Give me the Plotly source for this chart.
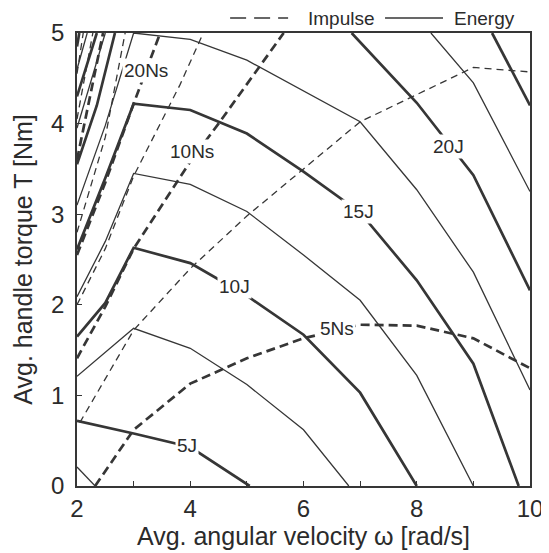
import plotly.graph_objects as go

# ---------------- data ----------------
# Energy contours [J] (solid). thick = multiples of 5 J, thin = odd 2.5 J steps
e2_5_x = [2, 2.32]
e2_5_y = [0.21, 0.0]
e5_x = [2, 3, 4, 5.05]
e5_y = [0.72, 0.58, 0.43, 0.0]
e7_5_x = [2, 3, 4, 5, 6, 6.8]
e7_5_y = [1.21, 1.74, 1.52, 1.12, 0.62, 0.0]
e10_x = [2, 2.5, 3, 4, 5, 6, 7, 8]
e10_y = [1.65, 2.02, 2.63, 2.46, 2.10, 1.67, 1.03, 0.0]
e12_5_x = [2, 2.5, 3, 4, 5, 6, 7, 8, 9]
e12_5_y = [2.09, 2.70, 3.45, 3.33, 3.03, 2.55, 2.05, 1.22, 0.0]
e15_x = [2, 2.5, 3, 4, 5, 6, 7, 8, 9, 9.8]
e15_y = [2.61, 3.40, 4.22, 4.15, 3.89, 3.47, 3.02, 2.27, 1.35, 0.0]
e17_5_x = [2, 2.5, 3, 4, 5, 6, 7, 8, 9, 10]
e17_5_y = [3.10, 3.98, 5.0, 4.93, 4.70, 4.36, 4.02, 3.27, 2.36, 1.06]
e20_left_x = [2, 2.35, 2.67]
e20_left_y = [3.55, 4.20, 5.0]
e20_right_x = [6.85, 7, 8, 9, 10]
e20_right_y = [5.0, 4.90, 4.23, 3.43, 2.16]
e22_5_left_x = [2, 2.5]
e22_5_left_y = [3.95, 5.0]
e22_5_right_x = [8.25, 9, 10]
e22_5_right_y = [5.0, 4.45, 3.25]
e25_left_x = [2, 2.35]
e25_left_y = [4.30, 5.0]
e25_right_x = [9.33, 10]
e25_right_y = [5.0, 4.20]
e27_5_left_x = [2, 2.18]
e27_5_left_y = [4.60, 5.0]
e30_left_x = [2, 2.04]
e30_left_y = [4.85, 5.0]

# Impulse contours [Ns] (dashed)
i5_x = [2.32, 3, 4, 5, 6, 7, 8, 9, 10]
i5_y = [0.0, 0.62, 1.13, 1.41, 1.63, 1.78, 1.77, 1.63, 1.30]
i7_5_x = [2.05, 3, 4, 5, 6, 7, 8, 9, 10]
i7_5_y = [0.70, 1.72, 2.40, 2.98, 3.50, 4.02, 4.32, 4.62, 4.57]
i10_x = [2, 2.5, 3, 4, 4.5, 5, 5.65]
i10_y = [1.41, 1.98, 2.62, 3.58, 4.0, 4.43, 5.0]
i15_x = [2, 2.5, 3, 3.82, 4.23]
i15_y = [2.0, 2.62, 3.42, 4.43, 5.0]
i20_x = [2, 2.5, 3, 3.47]
i20_y = [2.55, 3.35, 4.22, 5.0]
i25_x = [2, 2.5, 2.85]
i25_y = [2.80, 3.85, 5.0]
i30_x = [2, 2.46]
i30_y = [3.60, 5.0]
i35_x = [2, 2.28]
i35_y = [4.05, 5.0]
i40_x = [2, 2.11]
i40_y = [4.55, 5.0]

# contour labels: text, x, y
label_text = ["5J", "10J", "15J", "20J", "5Ns", "10Ns", "20Ns"]
label_x = [3.94, 4.78, 6.97, 8.56, 6.59, 4.03, 3.22]
label_y = [0.45, 2.20, 3.03, 3.75, 1.74, 3.69, 4.59]

x_ticks = [2, 4, 6, 8, 10]
y_ticks = [0, 1, 2, 3, 4, 5]

# ---------------- styling ----------------
LINE = "#363636"
TEXT = "#2b2b2b"
FONT = "Liberation Sans, Arial, sans-serif"
THICK, THIN = 2.7, 1.3
DASH_THICK = "9px,5px"
DASH_THIN = "7px,5px"

energy = [
    (e2_5_x, e2_5_y, THIN), (e5_x, e5_y, THICK), (e7_5_x, e7_5_y, THIN),
    (e10_x, e10_y, THICK), (e12_5_x, e12_5_y, THIN), (e15_x, e15_y, THICK),
    (e17_5_x, e17_5_y, THIN), (e20_left_x, e20_left_y, THICK),
    (e20_right_x, e20_right_y, THICK), (e22_5_left_x, e22_5_left_y, THIN),
    (e22_5_right_x, e22_5_right_y, THIN), (e25_left_x, e25_left_y, THICK),
    (e25_right_x, e25_right_y, THICK), (e27_5_left_x, e27_5_left_y, THIN),
    (e30_left_x, e30_left_y, THICK),
]
impulse = [
    (i5_x, i5_y, THICK), (i7_5_x, i7_5_y, THIN), (i10_x, i10_y, THICK),
    (i15_x, i15_y, THIN), (i20_x, i20_y, THICK), (i25_x, i25_y, THIN),
    (i30_x, i30_y, THICK), (i35_x, i35_y, THIN), (i40_x, i40_y, THIN),
]

fig = go.Figure()
for xs, ys, w in impulse:
    fig.add_trace(go.Scatter(x=xs, y=ys, mode="lines", showlegend=False,
                             line=dict(color=LINE, width=w,
                                       dash=DASH_THICK if w == THICK else DASH_THIN)))
for xs, ys, w in energy:
    fig.add_trace(go.Scatter(x=xs, y=ys, mode="lines", showlegend=False,
                             line=dict(color=LINE, width=w)))

for t, lx, ly in zip(label_text, label_x, label_y):
    fig.add_annotation(x=lx, y=ly, text=t, showarrow=False,
                       font=dict(family=FONT, size=19, color=TEXT),
                       bgcolor="white", borderpad=1)

# legend drawn above the frame
fig.add_shape(type="line", xref="paper", yref="paper", x0=0.338, x1=0.466,
              y0=1.033, y1=1.033, line=dict(color=LINE, width=1.6, dash="16px,8px"))
fig.add_annotation(xref="paper", yref="paper", x=0.506, y=1.033, text="Impulse",
                   showarrow=False, xanchor="left", yanchor="middle",
                   font=dict(family=FONT, size=19, color=TEXT))
fig.add_shape(type="line", xref="paper", yref="paper", x0=0.68, x1=0.808,
              y0=1.033, y1=1.033, line=dict(color=LINE, width=1.6))
fig.add_annotation(xref="paper", yref="paper", x=0.828, y=1.033, text="Energy",
                   showarrow=False, xanchor="left", yanchor="middle",
                   font=dict(family=FONT, size=19, color=TEXT))

# the page body adds an 8px offset, so the figure is sized/placed to compensate
fig.update_layout(
    width=541, height=545,
    margin=dict(l=69, r=19, t=25, b=67, autoexpand=False),
    paper_bgcolor="white", plot_bgcolor="white",
    font=dict(family=FONT, color=TEXT),
)
fig.update_xaxes(range=[2, 10], tickvals=x_ticks, ticks="inside", ticklen=5,
                 tickcolor=LINE, linecolor=LINE, linewidth=1.6, mirror=True,
                 showgrid=False, zeroline=False, automargin=False,
                 minor=dict(dtick=1, ticks="inside", ticklen=5, tickcolor=LINE, showgrid=False),
                 tickfont=dict(size=24, color=TEXT), ticklabelstandoff=0,
                 title=dict(text="Avg. angular velocity ω [rad/s]",
                            font=dict(size=25, color=TEXT), standoff=0))
fig.update_yaxes(range=[0, 5], tickvals=y_ticks, ticks="inside", ticklen=5,
                 tickcolor=LINE, linecolor=LINE, linewidth=1.6, mirror=True,
                 showgrid=False, zeroline=False, automargin=False,
                 tickfont=dict(size=24, color=TEXT), ticklabelstandoff=6,
                 title=dict(text="Avg. handle torque T [Nm]",
                            font=dict(size=25, color=TEXT), standoff=11))

fig.write_html("out.html")
